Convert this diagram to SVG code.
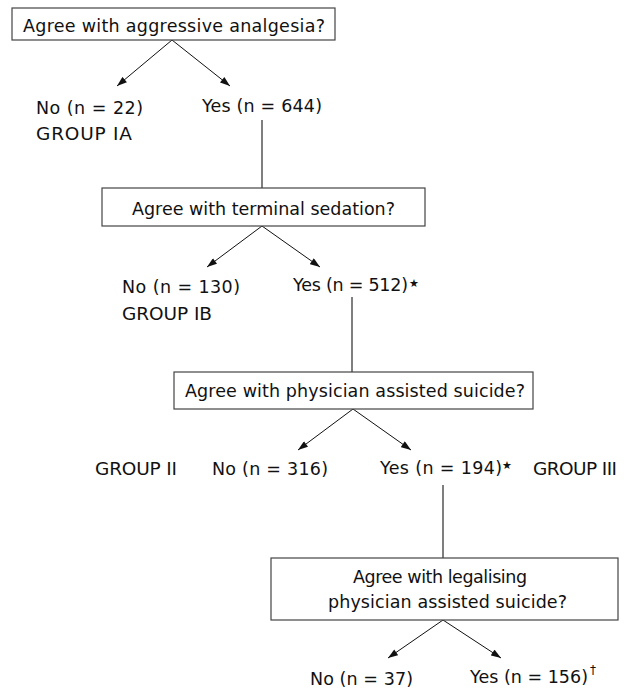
<svg xmlns="http://www.w3.org/2000/svg" width="624" height="691" viewBox="0 0 624 691">
<style>
.box{fill:#fff;stroke:#444;stroke-width:1.2}
.t{font-family:"DejaVu Sans","Liberation Sans",sans-serif;font-size:17.5px;fill:#111}
.g{font-family:"DejaVu Sans","Liberation Sans",sans-serif;font-size:18.5px;fill:#111}
.sup{font-family:"DejaVu Sans","Liberation Sans",sans-serif;fill:#111}
.arr{stroke:#111;stroke-width:1;fill:none;marker-end:url(#ah)}
.ln{stroke:#555;stroke-width:1.5;fill:none}
</style>
<defs>
<marker id="ah" viewBox="0 0 10 7" refX="10" refY="3.5" markerWidth="11" markerHeight="7" markerUnits="userSpaceOnUse" orient="auto">
<path d="M0,0 L10,3.5 L0,7 z" fill="#111"/>
</marker>
</defs>
<rect width="624" height="691" fill="#fff"/>
<g id="connectors">
<line class="arr" x1="172" y1="40" x2="117" y2="86"/>
<line class="arr" x1="172" y1="40" x2="230" y2="86"/>
<line class="ln" x1="262" y1="120" x2="262" y2="188"/>
<line class="arr" x1="262" y1="226" x2="207" y2="267"/>
<line class="arr" x1="262" y1="226" x2="320" y2="267"/>
<line class="ln" x1="352" y1="297" x2="352" y2="372"/>
<line class="arr" x1="353" y1="409" x2="298" y2="450"/>
<line class="arr" x1="353" y1="409" x2="411" y2="450"/>
<line class="ln" x1="443" y1="485" x2="443" y2="558"/>
<line class="arr" x1="443" y1="620" x2="388" y2="658"/>
<line class="arr" x1="443" y1="620" x2="501" y2="658"/>
</g>
<g id="q1">
<rect class="box" x="12" y="8" width="323" height="32"/>
<text class="t" x="23" y="32" textLength="302" lengthAdjust="spacing">Agree with aggressive analgesia?</text>
</g>
<g id="no1">
<text class="t" x="36" y="114" textLength="107" lengthAdjust="spacing">No (n = 22)</text>
<text class="g" x="36" y="140" textLength="96" lengthAdjust="spacing">GROUP IA</text>
</g>
<g id="yes1">
<text class="t" x="202" y="112" textLength="120" lengthAdjust="spacing">Yes (n = 644)</text>
</g>
<g id="q2">
<rect class="box" x="102" y="188" width="323" height="38"/>
<text class="t" x="132" y="215" textLength="263" lengthAdjust="spacing">Agree with terminal sedation?</text>
</g>
<g id="no2">
<text class="t" x="122" y="293" textLength="118" lengthAdjust="spacing">No (n = 130)</text>
<text class="g" x="122" y="320" textLength="90" lengthAdjust="spacing">GROUP IB</text>
</g>
<g id="yes2">
<text class="t" x="293" y="291" textLength="115" lengthAdjust="spacing">Yes (n = 512)</text>
<text class="sup" x="409" y="287" font-size="11">★</text>
</g>
<g id="q3">
<rect class="box" x="174" y="372" width="359" height="37"/>
<text class="t" x="185" y="397" textLength="340" lengthAdjust="spacing">Agree with physician assisted suicide?</text>
</g>
<g id="group2">
<text class="g" x="95" y="475" textLength="82" lengthAdjust="spacing">GROUP II</text>
</g>
<g id="no3">
<text class="t" x="212" y="475" textLength="116" lengthAdjust="spacing">No (n = 316)</text>
</g>
<g id="yes3">
<text class="t" x="380" y="474" textLength="122" lengthAdjust="spacing">Yes (n = 194)</text>
<text class="sup" x="502" y="469" font-size="11">★</text>
</g>
<g id="group3">
<text class="g" x="533" y="475" textLength="84" lengthAdjust="spacing">GROUP III</text>
</g>
<g id="q4">
<rect class="box" x="271" y="558" width="347" height="62"/>
<text class="t" x="353" y="583" textLength="174" lengthAdjust="spacing">Agree with legalising</text>
<text class="t" x="328" y="608" textLength="239" lengthAdjust="spacing">physician assisted suicide?</text>
</g>
<g id="no4">
<text class="t" x="310" y="685" textLength="103" lengthAdjust="spacing">No (n = 37)</text>
</g>
<g id="yes4">
<text class="t" x="470" y="683" textLength="118" lengthAdjust="spacing">Yes (n = 156)</text>
<text class="sup" x="590" y="674" font-size="12">†</text>
</g>
</svg>
